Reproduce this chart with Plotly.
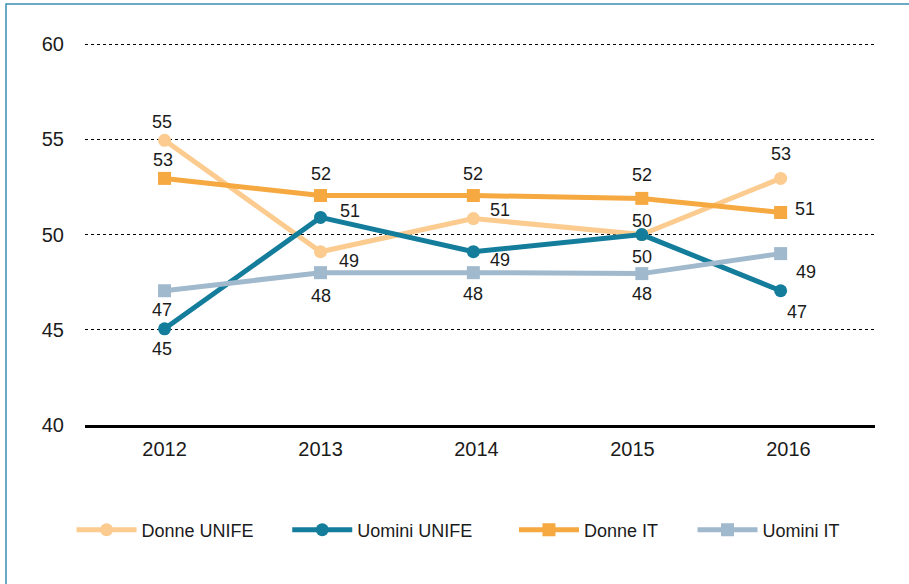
import plotly.graph_objects as go

years = ["2012", "2013", "2014", "2015", "2016"]
year_ticks = [2012, 2013, 2014, 2015, 2016]
# horizontal position of each point (in years)
x_pos = [2012.0, 2013.0, 2013.98, 2015.06, 2015.95]

donne_unife = [54.95, 49.1, 50.84, 50.0, 52.95]
uomini_unife = [45.05, 50.9, 49.1, 50.0, 47.05]
donne_it = [52.95, 52.05, 52.05, 51.9, 51.16]
uomini_it = [47.05, 48.0, 48.0, 47.95, 49.0]

lbl_donne_unife = ["55", "49", "51", "50", "53"]
lbl_uomini_unife = ["45", "51", "49", "50", "47"]
lbl_donne_it = ["53", "52", "52", "52", "51"]
lbl_uomini_it = ["47", "48", "48", "48", "49"]

y_ticks = [40, 45, 50, 55, 60]

# label offsets in pixels (dx right, dy down)
off_donne_unife = [(-3, -18), (28, 9), (27, -9), (0, 22), (0, -24)]
off_uomini_unife = [(-3, 20), (29, -6), (27, 8), (0, -14), (16, 21)]
off_donne_it = [(-2, -18), (0, -22), (0, -22), (0, -23), (24, -3)]
off_uomini_it = [(-3, 19), (0, 23), (0, 21), (0, 20), (25, 18)]

# legend slot (left edge, in paper fraction) for each series
legend_x = [-0.017, 0.256, 0.543, 0.769]

series = [
    ("Donne UNIFE", donne_unife, lbl_donne_unife, off_donne_unife, "#fccb8f", "circle", 13),
    ("Uomini UNIFE", uomini_unife, lbl_uomini_unife, off_uomini_unife, "#137d9b", "circle", 13),
    ("Donne IT", donne_it, lbl_donne_it, off_donne_it, "#f5a940", "square", 13),
    ("Uomini IT", uomini_it, lbl_uomini_it, off_uomini_it, "#a1b9cd", "square", 13),
]

FONT = "Liberation Sans, Arial, Helvetica"
TXT = "#1b1b1b"

fig = go.Figure()
annotations = []
legends = {}
for i, (name, vals, lbls, offs, color, sym, size) in enumerate(series):
    lname = "legend" if i == 0 else f"legend{i + 1}"
    legends[lname] = dict(orientation="h", x=legend_x[i], xanchor="left",
                          y=-0.275, yanchor="middle", bgcolor="rgba(0,0,0,0)",
                          font=dict(size=18, color=TXT, family=FONT), itemwidth=60)
    fig.add_trace(go.Scatter(
        x=x_pos, y=vals, name=name, mode="lines+markers", legend=lname,
        line=dict(color=color, width=5),
        marker=dict(color=color, symbol=sym, size=size),
        cliponaxis=False,
    ))
    for xv, yv, t, (dx, dy) in zip(x_pos, vals, lbls, offs):
        annotations.append(dict(
            x=xv, y=yv, xref="x", yref="y", text=t, showarrow=False,
            xshift=dx, yshift=-dy, xanchor="center", yanchor="middle",
            font=dict(size=18, color=TXT, family=FONT),
        ))

fig.update_layout(
    width=909, height=584,
    margin=dict(l=85, r=34, t=43, b=159),
    plot_bgcolor="white", paper_bgcolor="white",
    font=dict(family=FONT, size=18, color=TXT),
    showlegend=True,
    xaxis=dict(range=[2011.49, 2016.555], tickvals=year_ticks, ticktext=years,
               showgrid=False, zeroline=False,
               showline=True, linecolor="black", linewidth=2.5,
               ticks="outside", ticklen=4, tickcolor="rgba(0,0,0,0)",
               tickfont=dict(size=20)),
    yaxis=dict(range=[40, 60.06], tickvals=y_ticks, showgrid=True,
               gridcolor="black", gridwidth=1, griddash="dot",
               zeroline=False, showline=False,
               ticks="outside", ticklen=16, tickcolor="rgba(0,0,0,0)",
               tickfont=dict(size=20)),
    annotations=annotations,
    shapes=[dict(type="rect", xref="paper", yref="paper",
                 x0=-0.1, x1=3, y0=-3, y1=1.1024,
                 line=dict(color="#3a8fb2", width=1.5), layer="above")],
)
fig.update_layout(**legends)

fig.write_html("out.html", config={"displayModeBar": False},
               post_script="document.body.style.margin='0';")
